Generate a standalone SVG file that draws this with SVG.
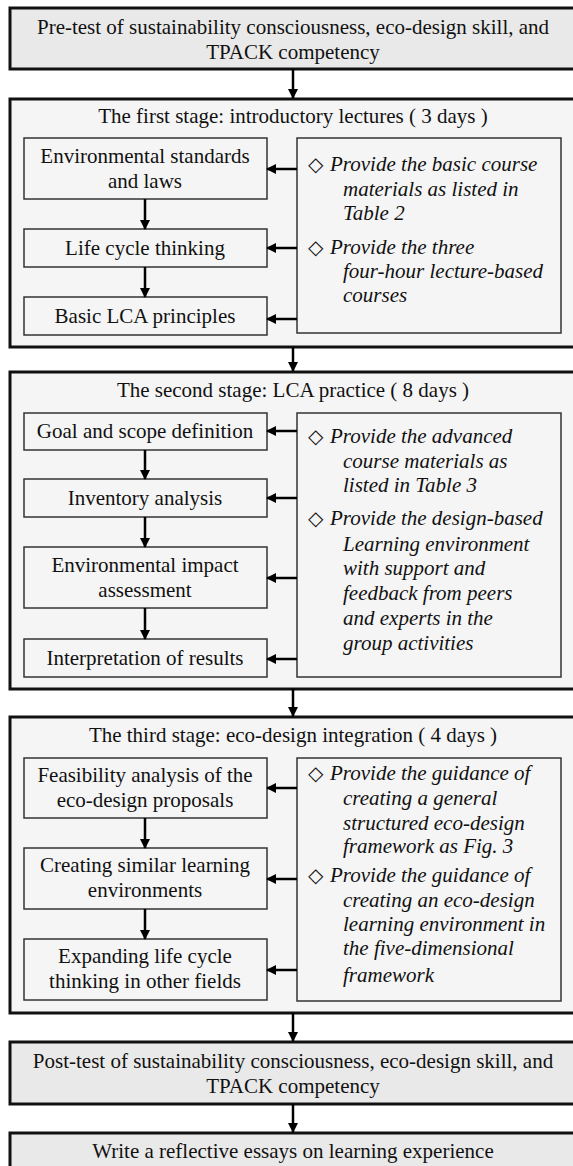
<svg xmlns="http://www.w3.org/2000/svg" width="573" height="1166" viewBox="0 0 573 1166">
<defs>
<marker id="ah" markerWidth="10" markerHeight="10" refX="9" refY="5" orient="auto" markerUnits="userSpaceOnUse">
<path d="M0,0 L10,5 L0,10 Z" fill="#000"/>
</marker>
<style>
text{font-family:"Liberation Serif","Times New Roman",serif;font-size:21px;fill:#111}
.c{text-anchor:middle}
.it{font-style:italic}
.dm{font-style:normal;font-family:"DejaVu Sans",sans-serif;font-size:20px}
.test{fill:#e9e9e9;stroke:#111;stroke-width:3}
.stage{fill:#f5f5f5;stroke:#111;stroke-width:3}
.box{fill:#f5f5f5;stroke:#333;stroke-width:1.5}
.ln{stroke:#000;stroke-width:2.5;fill:none;marker-end:url(#ah)}
</style>
</defs>

<g id="pretest">
<rect class="test" x="10" y="8" width="570" height="61"/>
<text class="c" x="293" y="34">Pre-test of sustainability consciousness, eco-design skill, and</text>
<text class="c" x="293" y="59">TPACK competency</text>
</g>

<g id="stage1">
<rect class="stage" x="10" y="99" width="570" height="248"/>
<text class="c" x="293" y="123">The first stage: introductory lectures ( 3 days )</text>
</g>
<g id="s1-env">
<rect class="box" x="24" y="138" width="243" height="61"/>
<text class="c" x="145" y="163">Environmental standards</text>
<text class="c" x="145" y="188">and laws</text>
</g>
<g id="s1-lct">
<rect class="box" x="24" y="229" width="243" height="38"/>
<text class="c" x="145" y="255">Life cycle thinking</text>
</g>
<g id="s1-lca">
<rect class="box" x="24" y="297" width="243" height="38"/>
<text class="c" x="145" y="323">Basic LCA principles</text>
</g>
<g id="s1-support">
<rect class="box" x="297" y="138" width="264" height="195"/>
<text x="308" y="171"><tspan class="dm">◇</tspan><tspan class="it" x="330">Provide the basic course</tspan></text>
<text class="it" x="343" y="196">materials as listed in</text>
<text class="it" x="343" y="220">Table 2</text>
<text x="308" y="254"><tspan class="dm">◇</tspan><tspan class="it" x="330">Provide the three</tspan></text>
<text class="it" x="343" y="278">four-hour lecture-based</text>
<text class="it" x="343" y="302">courses</text>
</g>

<g id="stage2">
<rect class="stage" x="10" y="372" width="570" height="317"/>
<text class="c" x="293" y="397">The second stage: LCA practice ( 8 days )</text>
</g>
<g id="s2-goal">
<rect class="box" x="24" y="413" width="243" height="37"/>
<text class="c" x="145" y="438">Goal and scope definition</text>
</g>
<g id="s2-inv">
<rect class="box" x="24" y="479" width="243" height="38"/>
<text class="c" x="145" y="505">Inventory analysis</text>
</g>
<g id="s2-eia">
<rect class="box" x="24" y="547" width="243" height="61"/>
<text class="c" x="145" y="572">Environmental impact</text>
<text class="c" x="145" y="597">assessment</text>
</g>
<g id="s2-int">
<rect class="box" x="24" y="639" width="243" height="38"/>
<text class="c" x="145" y="665">Interpretation of results</text>
</g>
<g id="s2-support">
<rect class="box" x="297" y="413" width="264" height="264"/>
<text x="308" y="443"><tspan class="dm">◇</tspan><tspan class="it" x="330">Provide the advanced</tspan></text>
<text class="it" x="343" y="468">course materials as</text>
<text class="it" x="343" y="492">listed in Table 3</text>
<text x="308" y="525"><tspan class="dm">◇</tspan><tspan class="it" x="330">Provide the design-based</tspan></text>
<text class="it" x="343" y="551">Learning environment</text>
<text class="it" x="343" y="575">with support and</text>
<text class="it" x="343" y="600">feedback from peers</text>
<text class="it" x="343" y="625">and experts in the</text>
<text class="it" x="343" y="650">group activities</text>
</g>

<g id="stage3">
<rect class="stage" x="10" y="717" width="570" height="296"/>
<text class="c" x="293" y="742">The third stage: eco-design integration ( 4 days )</text>
</g>
<g id="s3-feas">
<rect class="box" x="24" y="758" width="243" height="60"/>
<text class="c" x="145" y="782">Feasibility analysis of the</text>
<text class="c" x="145" y="807">eco-design proposals</text>
</g>
<g id="s3-create">
<rect class="box" x="24" y="848" width="243" height="61"/>
<text class="c" x="145" y="872">Creating similar learning</text>
<text class="c" x="145" y="897">environments</text>
</g>
<g id="s3-expand">
<rect class="box" x="24" y="939" width="243" height="61"/>
<text class="c" x="145" y="963">Expanding life cycle</text>
<text class="c" x="145" y="988">thinking in other fields</text>
</g>
<g id="s3-support">
<rect class="box" x="297" y="758" width="264" height="243"/>
<text x="308" y="780"><tspan class="dm">◇</tspan><tspan class="it" x="330">Provide the guidance of</tspan></text>
<text class="it" x="343" y="805">creating a general</text>
<text class="it" x="343" y="830">structured eco-design</text>
<text class="it" x="343" y="853">framework as Fig. 3</text>
<text x="308" y="882"><tspan class="dm">◇</tspan><tspan class="it" x="330">Provide the guidance of</tspan></text>
<text class="it" x="343" y="907">creating an eco-design</text>
<text class="it" x="343" y="931">learning environment in</text>
<text class="it" x="343" y="955">the five-dimensional</text>
<text class="it" x="343" y="982">framework</text>
</g>

<g id="posttest">
<rect class="test" x="10" y="1042" width="570" height="62"/>
<text class="c" x="293" y="1068">Post-test of sustainability consciousness, eco-design skill, and</text>
<text class="c" x="293" y="1093">TPACK competency</text>
</g>

<g id="essay">
<rect class="test" x="10" y="1133" width="570" height="45"/>
<text class="c" x="293" y="1158">Write a reflective essays on learning experience</text>
</g>

<g id="connectors">
<line class="ln" x1="293" y1="69" x2="293" y2="98"/>
<line class="ln" x1="293" y1="347" x2="293" y2="371"/>
<line class="ln" x1="293" y1="689" x2="293" y2="716"/>
<line class="ln" x1="293" y1="1013" x2="293" y2="1041"/>
<line class="ln" x1="293" y1="1104" x2="293" y2="1132"/>

<line class="ln" x1="145" y1="199" x2="145" y2="229"/>
<line class="ln" x1="145" y1="267" x2="145" y2="297"/>
<line class="ln" x1="297" y1="169" x2="267" y2="169"/>
<line class="ln" x1="297" y1="248" x2="267" y2="248"/>
<line class="ln" x1="297" y1="319" x2="267" y2="319"/>

<line class="ln" x1="145" y1="450" x2="145" y2="479"/>
<line class="ln" x1="145" y1="517" x2="145" y2="547"/>
<line class="ln" x1="145" y1="608" x2="145" y2="639"/>
<line class="ln" x1="297" y1="431" x2="267" y2="431"/>
<line class="ln" x1="297" y1="498" x2="267" y2="498"/>
<line class="ln" x1="297" y1="578" x2="267" y2="578"/>
<line class="ln" x1="297" y1="659" x2="267" y2="659"/>

<line class="ln" x1="145" y1="818" x2="145" y2="848"/>
<line class="ln" x1="145" y1="909" x2="145" y2="939"/>
<line class="ln" x1="297" y1="788" x2="267" y2="788"/>
<line class="ln" x1="297" y1="879" x2="267" y2="879"/>
<line class="ln" x1="297" y1="970" x2="267" y2="970"/>
</g>
</svg>
